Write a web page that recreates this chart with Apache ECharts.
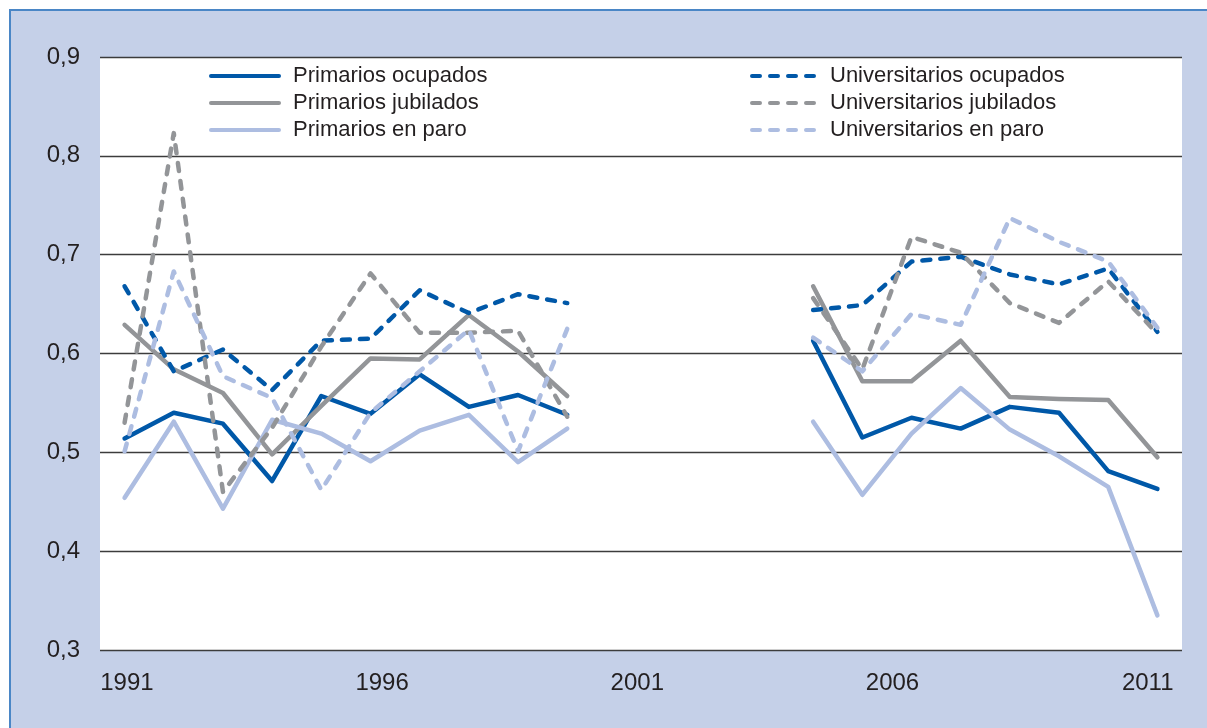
<!DOCTYPE html>
<html>
<head>
<meta charset="utf-8">
<script src="https://cdn.jsdelivr.net/npm/echarts@6/dist/echarts.min.js"></script>
<style>
  html, body { margin: 0; padding: 0; background: #ffffff; }
  #frame {
    position: absolute; left: 9px; top: 9px; width: 1198px; height: 719px;
    background: #c5d0e8; border-left: 2px solid #4a86c6; border-top: 2px solid #4a86c6;
    box-sizing: border-box;
  }
  #chart { position: absolute; left: 0; top: 0; width: 1207px; height: 728px; }
</style>
</head>
<body>
<div id="frame"></div>
<div id="chart"></div>
<script>
// Survey waves: 1991–2000, then a gap, then the later waves up to 2011
const periods = ['P1','P2','P3','P4','P5','P6','P7','P8','P9','P10',
                 'G1','G2','G3','G4',
                 'P11','P12','P13','P14','P15','P16','P17','P18'];
const yearLabels = [1991, 1996, 2001, 2006, 2011];

const primariosOcupados   = [0.514, 0.540, 0.529, 0.471, 0.557, 0.539, 0.579, 0.546, 0.558, 0.538, null, null, null, null, 0.613, 0.515, 0.535, 0.524, 0.546, 0.540, 0.481, 0.463];
const primariosJubilados  = [0.629, 0.584, 0.560, 0.498, 0.547, 0.595, 0.594, 0.639, 0.602, 0.557, null, null, null, null, 0.668, 0.572, 0.572, 0.613, 0.556, 0.554, 0.553, 0.495];
const primariosParo       = [0.454, 0.531, 0.443, 0.533, 0.519, 0.491, 0.522, 0.538, 0.490, 0.524, null, null, null, null, 0.531, 0.457, 0.519, 0.565, 0.523, 0.496, 0.465, 0.335];
const univOcupados        = [0.668, 0.582, 0.604, 0.563, 0.613, 0.615, 0.664, 0.641, 0.660, 0.651, null, null, null, null, 0.644, 0.649, 0.693, 0.698, 0.680, 0.670, 0.686, 0.622];
const univJubilados       = [0.530, 0.823, 0.460, 0.525, 0.607, 0.681, 0.621, 0.621, 0.623, 0.536, null, null, null, null, 0.656, 0.584, 0.718, 0.702, 0.651, 0.631, 0.673, 0.620];
const univParo            = [0.501, 0.683, 0.577, 0.555, 0.462, 0.540, 0.582, 0.624, 0.501, 0.625, null, null, null, null, 0.616, 0.582, 0.640, 0.629, 0.737, 0.713, 0.693, 0.626];

const FONT = '"Liberation Sans", Arial, sans-serif';
const TEXT = '#231f20';
const DARK = '#0058a8', GRAY = '#939598', LIGHT = '#adbde1';
const DASH = [8, 10];

function line(name, data, color, dashed) {
  return {
    name, type: 'line', data, xAxisIndex: 0,
    symbol: 'none', showSymbol: false, connectNulls: false,
    lineStyle: { color, width: 4.5, type: dashed ? DASH : 'solid', cap: 'round', join: 'round' },
    itemStyle: { color }
  };
}

function legend(names, left, pad) {
  return {
    data: names, orient: 'vertical', left, top: 63, padding: 0,
    itemWidth: 68, itemHeight: 14, itemGap: 1,
    itemStyle: { opacity: 0, borderWidth: 0 },
    lineStyle: { width: 4, type: 'inherit', cap: 'round', opacity: 1 },
    textStyle: { fontFamily: FONT, fontSize: 22, color: TEXT, lineHeight: 26, padding: [0, 0, 0, pad] },
    selectedMode: false
  };
}

const chart = echarts.init(document.getElementById('chart'), null, { renderer: 'canvas' });
chart.setOption({
  animation: false,
  backgroundColor: 'transparent',
  grid: { left: 100, right: 25, top: 57, bottom: 78, show: true, backgroundColor: '#ffffff', borderWidth: 0 },
  legend: [
    legend(['Primarios ocupados', 'Primarios jubilados', 'Primarios en paro'], 209, 9),
    legend(['Universitarios ocupados', 'Universitarios jubilados', 'Universitarios en paro'], 750, 5)
  ],
  xAxis: [
    {
      type: 'category', data: periods, boundaryGap: true, position: 'top',
      axisLine: { show: false }, axisTick: { show: false }, axisLabel: { show: false }, splitLine: { show: false }
    },
    {
      type: 'value', position: 'bottom', min: 1990.473, max: 2011.672,
      axisLine: { show: false }, axisTick: { show: false }, splitLine: { show: false },
      axisLabel: {
        customValues: yearLabels, margin: 21,
        fontFamily: FONT, fontSize: 24, color: TEXT,
        formatter: v => String(Math.round(v))
      }
    }
  ],
  yAxis: {
    type: 'value', min: 0.3, max: 0.9, interval: 0.1,
    axisLine: { show: false }, axisTick: { show: false },
    splitLine: { lineStyle: { color: '#3c3c3c', width: 1.3 } },
    axisLabel: {
      margin: 20, fontFamily: FONT, fontSize: 24, color: TEXT,
      formatter: v => v.toFixed(1).replace('.', ',')
    }
  },
  series: [
    line('Primarios ocupados', primariosOcupados, DARK, false),
    line('Primarios jubilados', primariosJubilados, GRAY, false),
    line('Primarios en paro', primariosParo, LIGHT, false),
    line('Universitarios ocupados', univOcupados, DARK, true),
    line('Universitarios jubilados', univJubilados, GRAY, true),
    line('Universitarios en paro', univParo, LIGHT, true)
  ]
});
</script>
</body>
</html>
